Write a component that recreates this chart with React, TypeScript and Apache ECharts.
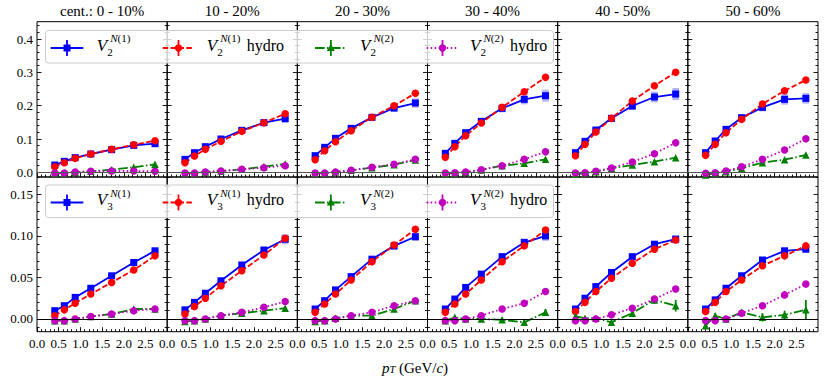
import React, { useEffect, useRef } from "react";
import * as echarts from "echarts";

// ---------------- data ----------------
const PT = [0.41, 0.63, 0.88, 1.24, 1.72, 2.23, 2.72];
const CENTRALITY = ["cent.: 0 - 10%", "10 - 20%", "20 - 30%", "30 - 40%", "40 - 50%", "50 - 60%"];

const X_TICKS = [0, 0.5, 1.0, 1.5, 2.0, 2.5];
const Y_TICKS_V2 = [0, 0.1, 0.2, 0.3, 0.4];
const Y_TICKS_V3 = [0, 0.05, 0.1, 0.15];

// V2 N(1) measured
const V2_N1 = [
  [0.022, 0.033, 0.044, 0.055, 0.068, 0.081, 0.086],
  [0.039, 0.059, 0.077, 0.100, 0.126, 0.149, 0.161],
  [0.050, 0.075, 0.102, 0.132, 0.165, 0.193, 0.208],
  [0.057, 0.087, 0.119, 0.153, 0.192, 0.219, 0.230],
  [0.059, 0.093, 0.127, 0.162, 0.199, 0.226, 0.235],
  [0.059, 0.094, 0.129, 0.164, 0.195, 0.219, 0.222],
];
const V2_N1_SYS = [
  [0.004, 0.004, 0.004, 0.004, 0.005, 0.006, 0.008],
  [0.005, 0.005, 0.005, 0.006, 0.008, 0.010, 0.012],
  [0.005, 0.006, 0.006, 0.008, 0.010, 0.012, 0.014],
  [0.006, 0.006, 0.007, 0.009, 0.012, 0.015, 0.018],
  [0.006, 0.006, 0.007, 0.009, 0.012, 0.016, 0.018],
  [0.006, 0.006, 0.007, 0.009, 0.012, 0.016, 0.016],
];
const V2_N1_HYDRO = [
  [0.017, 0.029, 0.042, 0.055, 0.069, 0.083, 0.095],
  [0.029, 0.049, 0.069, 0.093, 0.123, 0.149, 0.176],
  [0.038, 0.065, 0.092, 0.125, 0.165, 0.200, 0.237],
  [0.045, 0.077, 0.110, 0.148, 0.195, 0.242, 0.285],
  [0.050, 0.084, 0.121, 0.162, 0.214, 0.260, 0.300],
  [0.051, 0.084, 0.119, 0.159, 0.205, 0.245, 0.277],
];
const V2_N2 = [
  [-0.003, -0.002, 0.000, 0.003, 0.008, 0.015, 0.024],
  [-0.003, -0.002, 0.001, 0.004, 0.009, 0.017, 0.025],
  [-0.003, -0.002, 0.001, 0.006, 0.014, 0.023, 0.037],
  [-0.004, -0.002, 0.000, 0.007, 0.020, 0.027, 0.039],
  [-0.006, -0.002, 0.002, 0.012, 0.022, 0.032, 0.044],
  [-0.008, -0.002, 0.002, 0.012, 0.029, 0.038, 0.052],
];
const V2_N2_ERR = [
  [0.001, 0.001, 0.001, 0.001, 0.001, 0.002, 0.002],
  [0.001, 0.001, 0.001, 0.001, 0.002, 0.002, 0.003],
  [0.001, 0.001, 0.001, 0.001, 0.002, 0.002, 0.003],
  [0.001, 0.001, 0.001, 0.002, 0.002, 0.003, 0.003],
  [0.001, 0.001, 0.001, 0.002, 0.002, 0.003, 0.004],
  [0.001, 0.001, 0.001, 0.002, 0.002, 0.003, 0.004],
];
const V2_N2_HYDRO = [
  [-0.002, -0.002, 0.001, 0.003, 0.004, 0.004, 0.003],
  [-0.002, -0.002, 0.001, 0.004, 0.009, 0.014, 0.020],
  [-0.002, -0.002, 0.001, 0.006, 0.015, 0.024, 0.039],
  [-0.002, -0.001, 0.001, 0.008, 0.020, 0.039, 0.062],
  [-0.002, -0.001, 0.003, 0.013, 0.031, 0.056, 0.089],
  [-0.003, -0.001, 0.004, 0.017, 0.039, 0.067, 0.101],
];

// V3
const V3_N1 = [
  [0.010, 0.016, 0.026, 0.037, 0.052, 0.068, 0.082],
  [0.011, 0.020, 0.031, 0.046, 0.065, 0.083, 0.096],
  [0.012, 0.022, 0.035, 0.051, 0.072, 0.088, 0.099],
  [0.012, 0.024, 0.038, 0.054, 0.075, 0.092, 0.100],
  [0.012, 0.025, 0.039, 0.056, 0.075, 0.090, 0.096],
  [0.012, 0.023, 0.037, 0.052, 0.071, 0.082, 0.084],
];
const V3_N1_SYS = [
  [0.001, 0.001, 0.0012, 0.0015, 0.002, 0.003, 0.004],
  [0.0015, 0.0015, 0.0018, 0.002, 0.003, 0.004, 0.006],
  [0.0015, 0.0015, 0.002, 0.002, 0.003, 0.005, 0.005],
  [0.0015, 0.0015, 0.002, 0.0025, 0.004, 0.005, 0.006],
  [0.0015, 0.0015, 0.002, 0.0025, 0.003, 0.004, 0.005],
  [0.0015, 0.0015, 0.002, 0.0025, 0.003, 0.004, 0.004],
];
const V3_N1_HYDRO = [
  [0.004, 0.011, 0.019, 0.030, 0.044, 0.059, 0.076],
  [0.006, 0.015, 0.025, 0.040, 0.058, 0.077, 0.097],
  [0.008, 0.018, 0.030, 0.047, 0.069, 0.089, 0.108],
  [0.008, 0.018, 0.030, 0.047, 0.069, 0.088, 0.107],
  [0.009, 0.020, 0.033, 0.049, 0.067, 0.084, 0.095],
  [0.009, 0.020, 0.033, 0.047, 0.064, 0.076, 0.088],
];
const V3_N2 = [
  [-0.002, -0.002, 0.000, 0.003, 0.006, 0.012, 0.012],
  [-0.003, -0.002, 0.000, 0.004, 0.007, 0.010, 0.013],
  [-0.003, -0.002, 0.001, 0.004, 0.004, 0.012, 0.022],
  [-0.002, 0.002, 0.000, 0.000, -0.001, -0.004, 0.008],
  [0.003, 0.001, 0.001, -0.004, 0.007, 0.023, 0.016],
  [-0.008, 0.004, 0.000, 0.008, 0.002, 0.005, 0.011],
];
const V3_N2_ERR = [
  [0.0005, 0.0005, 0.0005, 0.001, 0.001, 0.0015, 0.002],
  [0.0005, 0.0005, 0.0005, 0.001, 0.001, 0.0015, 0.002],
  [0.0005, 0.0005, 0.001, 0.001, 0.0015, 0.002, 0.003],
  [0.001, 0.002, 0.001, 0.001, 0.0015, 0.003, 0.004],
  [0.002, 0.002, 0.0015, 0.002, 0.003, 0.005, 0.007],
  [0.003, 0.003, 0.002, 0.003, 0.005, 0.005, 0.012],
];
const V3_N2_HYDRO = [
  [-0.002, -0.002, 0.000, 0.003, 0.006, 0.010, 0.012],
  [-0.002, -0.002, 0.000, 0.004, 0.008, 0.014, 0.021],
  [-0.002, -0.002, 0.000, 0.004, 0.008, 0.016, 0.022],
  [-0.002, -0.002, 0.000, 0.004, 0.012, 0.019, 0.033],
  [-0.002, -0.002, 0.000, 0.005, 0.013, 0.024, 0.036],
  [-0.002, -0.002, 0.000, 0.007, 0.016, 0.029, 0.042],
];

// ---------------- styling / layout ----------------
const FONT = "Liberation Serif, DejaVu Serif, serif";
const BLUE = "#0000ff";
const RED = "#ff0000";
const GREEN = "#008000";
const MAGENTA = "#bf00bf";
const DASH = [5.5, 2.4];
const DASHDOT = [9.6, 2.4, 1.5, 2.4];
const DOT = [1.5, 2.5];

const GRID_LEFT = 37;
const GRID_W = (818 - 37) / 6;
const ROW_TOP = [21.7, 177];
const ROW_H = [155.3, 154.7];

function minors(step: number, lo: number, hi: number, majorStep: number): number[] {
  const out: number[] = [];
  const n0 = Math.ceil(lo / step - 1e-9);
  const n1 = Math.floor(hi / step + 1e-9);
  for (let k = n0; k <= n1; k++) {
    const v = Math.round(k * step * 1e6) / 1e6;
    const r = v / majorStep;
    if (Math.abs(r - Math.round(r)) > 1e-6) out.push(v);
  }
  return out;
}

const ROWS = [
  {
    n1: V2_N1, sys: V2_N1_SYS, n1h: V2_N1_HYDRO, n2: V2_N2, err: V2_N2_ERR, n2h: V2_N2_HYDRO,
    min: -0.014, max: 0.452, ticks: Y_TICKS_V2, minor: minors(0.02, -0.014, 0.452, 0.1), dec: 1, zero: "#555",
  },
  {
    n1: V3_N1, sys: V3_N1_SYS, n1h: V3_N1_HYDRO, n2: V3_N2, err: V3_N2_ERR, n2h: V3_N2_HYDRO,
    min: -0.0153, max: 0.1709, ticks: Y_TICKS_V3, minor: minors(0.01, -0.0153, 0.1709, 0.05), dec: 2, zero: "#000",
  },
];
const X_MINOR = minors(0.1, 0, 3, 0.5);

function buildOption() {
  const grid: any[] = [];
  const xAxis: any[] = [];
  const yAxis: any[] = [];
  const series: any[] = [];
  const tickLine = { color: "#000", width: 0.9 };

  ROWS.forEach((row, r) => {
    for (let c = 0; c < 6; c++) {
      const g = r * 6 + c;
      grid.push({
        left: GRID_LEFT + c * GRID_W,
        top: ROW_TOP[r],
        width: GRID_W,
        height: ROW_H[r],
        show: true,
        borderColor: "#000",
        borderWidth: 1,
        backgroundColor: "transparent",
        containLabel: false,
        outerBoundsMode: "none",
      });
      xAxis.push({
        type: "value", gridIndex: g, position: "bottom", min: 0, max: 3,
        axisLine: { show: false, onZero: false },
        splitLine: { show: false },
        axisTick: { show: true, inside: true, length: 4.5, customValues: X_TICKS, lineStyle: tickLine },
        axisLabel: {
          show: r === 1, customValues: X_TICKS, margin: 5,
          formatter: (v: number) => v.toFixed(1),
          fontFamily: FONT, fontSize: 13, color: "#000",
        },
      });
      xAxis.push({
        type: "value", gridIndex: g, position: "bottom", min: 0, max: 3,
        axisLine: { show: false, onZero: false },
        splitLine: { show: false },
        axisTick: { show: true, inside: true, length: 2.5, customValues: X_MINOR, lineStyle: tickLine },
        axisLabel: { show: false },
      });
      const yBase = {
        type: "value", gridIndex: g, min: row.min, max: row.max,
        axisLine: { show: false, onZero: false },
        splitLine: { show: false },
      };
      yAxis.push({
        ...yBase, position: "left",
        axisTick: { show: true, inside: true, length: 4.5, customValues: row.ticks, lineStyle: tickLine },
        axisLabel: {
          show: c === 0, customValues: row.ticks, margin: 4,
          formatter: (v: number) => v.toFixed(row.dec),
          fontFamily: FONT, fontSize: 13, color: "#000",
        },
      });
      yAxis.push({
        ...yBase, position: "left",
        axisTick: { show: true, inside: true, length: 2.5, customValues: row.minor, lineStyle: tickLine },
        axisLabel: { show: false },
      });
      yAxis.push({
        ...yBase, position: "right",
        axisTick: { show: true, inside: true, length: 4.5, customValues: row.ticks, lineStyle: tickLine },
        axisLabel: { show: false },
      });
      yAxis.push({
        ...yBase, position: "right",
        axisTick: { show: true, inside: true, length: 2.5, customValues: row.minor, lineStyle: tickLine },
        axisLabel: { show: false },
      });

      const xi = 2 * g;
      const yi = 4 * g;

      series.push({
        type: "custom", xAxisIndex: xi, yAxisIndex: yi, silent: true, z: 1,
        data: PT.map((x, i) => [x, row.n1[c][i], row.sys[c][i]]),
        renderItem: (_p: any, api: any) => {
          const x = api.value(0), y = api.value(1), e = api.value(2);
          const a = api.coord([x - 0.075, y + e]);
          const b = api.coord([x + 0.075, y - e]);
          return {
            type: "rect",
            shape: { x: a[0], y: a[1], width: b[0] - a[0], height: b[1] - a[1] },
            style: { fill: "rgba(0,0,255,0.3)" },
          };
        },
      });

      const mk = (data: number[], color: string, symbol: string, dash: any, size: number) => ({
        type: "line", xAxisIndex: xi, yAxisIndex: yi, silent: true, z: 3,
        data: PT.map((x, i) => [x, data[i]]),
        symbol, symbolSize: size, showSymbol: true,
        itemStyle: { color },
        lineStyle: { color, width: 1.8, type: dash },
      });

      const blue: any = mk(row.n1[c], BLUE, "rect", "solid", 7);
      blue.markLine = {
        silent: true, symbol: ["none", "none"], label: { show: false },
        lineStyle: { color: row.zero, width: 1, type: "solid" },
        data: [{ yAxis: 0 }],
      };
      series.push(blue);
      series.push(mk(row.n1h[c], RED, "circle", DASH, 7.5));
      series.push(mk(row.n2[c], GREEN, "triangle", DASHDOT, 7.5));
      series.push({
        type: "custom", xAxisIndex: xi, yAxisIndex: yi, silent: true, z: 3,
        data: PT.map((x, i) => [x, row.n2[c][i], row.err[c][i]]),
        renderItem: (_p: any, api: any) => {
          const x = api.value(0), y = api.value(1), e = api.value(2);
          const a = api.coord([x, y + e]);
          const b = api.coord([x, y - e]);
          return {
            type: "line",
            shape: { x1: a[0], y1: a[1], x2: b[0], y2: b[1] },
            style: { stroke: GREEN, lineWidth: 1.8 },
          };
        },
      });
      series.push(mk(row.n2h[c], MAGENTA, "circle", DOT, 7.5));
    }
  });

  const graphic: any[] = [];
  const legend = (top: number, harm: string) => {
    const hy = top + 17.5;
    graphic.push({
      type: "rect", z: 100,
      shape: { x: 45.5, y: top, width: 508, height: 32.5, r: 3 },
      style: { fill: "rgba(255,255,255,0.8)", stroke: "#cccccc", lineWidth: 1 },
    });
    const entries = [
      { x0: 50.7, x1: 83.3, color: BLUE, dash: null, sym: "rect", tx: 96.7, sup: "(1)", hydro: false },
      { x0: 162.7, x1: 194.3, color: RED, dash: DASH, sym: "circle", tx: 206.7, sup: "(1)", hydro: true },
      { x0: 315, x1: 346.7, color: GREEN, dash: DASHDOT, sym: "triangle", tx: 360, sup: "(2)", hydro: false },
      { x0: 426.7, x1: 458.3, color: MAGENTA, dash: DOT, sym: "circle", tx: 470, sup: "(2)", hydro: true },
    ];
    entries.forEach((e) => {
      const xm = (e.x0 + e.x1) / 2;
      graphic.push({
        type: "line", z: 101,
        shape: { x1: e.x0, y1: hy, x2: e.x1, y2: hy },
        style: { stroke: e.color, lineWidth: 1.8, lineDash: e.dash || undefined },
      });
      graphic.push({
        type: "line", z: 101,
        shape: { x1: xm, y1: hy - 8, x2: xm, y2: hy + 8 },
        style: { stroke: e.color, lineWidth: 1.8 },
      });
      if (e.sym === "rect") {
        graphic.push({ type: "rect", z: 102, shape: { x: xm - 3.5, y: hy - 3.5, width: 7, height: 7 }, style: { fill: e.color } });
      } else if (e.sym === "circle") {
        graphic.push({ type: "circle", z: 102, shape: { cx: xm, cy: hy, r: 3.7 }, style: { fill: e.color } });
      } else {
        graphic.push({
          type: "polygon", z: 102,
          shape: { points: [[xm, hy - 4.2], [xm + 4, hy + 3], [xm - 4, hy + 3]] },
          style: { fill: e.color },
        });
      }
      const txt = (x: number, y: number, text: string, size: number, italic: boolean, extra: any = {}) =>
        graphic.push({
          type: "text", z: 103, x, y,
          style: {
            text, fill: "#000",
            fontFamily: FONT, fontSize: size, fontStyle: italic ? "italic" : "normal",
            textAlign: "left", align: "left",
            textVerticalAlign: "middle", verticalAlign: "middle",
            ...extra,
          },
        });
      txt(e.tx, hy - 3, "V", 17, true);
      txt(e.tx + 10.5, hy + 3.5, harm, 11, false);
      txt(e.tx + 13.5, hy - 10, `{i|N}{r|${e.sup}}`, 11, false, {
        rich: {
          i: { fontStyle: "italic", fontSize: 11, fontFamily: FONT },
          r: { fontSize: 11, fontFamily: FONT },
        },
      });
      if (e.hydro) txt(e.tx + 40, hy - 3, "hydro", 16, false);
    });
  };
  legend(30.5, "2");
  legend(185, "3");

  graphic.push({
    type: "text", x: 415, y: 366, z: 50,
    style: {
      text: "{i|p}{s|T} {r|(GeV/}{i|c}{r|)}",
      textAlign: "center", align: "center",
      textVerticalAlign: "middle", verticalAlign: "middle",
      fill: "#000",
      fontFamily: FONT, fontSize: 15,
      rich: {
        i: { fontStyle: "italic", fontSize: 15, fontFamily: FONT, lineHeight: 18, verticalAlign: "bottom" },
        r: { fontSize: 15, fontFamily: FONT, lineHeight: 18, verticalAlign: "bottom" },
        s: { fontStyle: "italic", fontSize: 10.5, fontFamily: FONT, lineHeight: 11, verticalAlign: "bottom" },
      },
    },
  });

  const title = CENTRALITY.map((t, c) => ({
    text: t,
    left: GRID_LEFT + c * GRID_W + GRID_W / 2,
    top: 3.5,
    textAlign: "center",
    padding: 0,
    textStyle: { fontFamily: FONT, fontSize: 15, fontWeight: "normal", color: "#000" },
  }));

  return {
    animation: false,
    backgroundColor: "#ffffff",
    textStyle: { fontFamily: FONT },
    title,
    grid,
    xAxis,
    yAxis,
    series,
    graphic,
  };
}

export default function App() {
  const ref = useRef<HTMLDivElement>(null);
  useEffect(() => {
    if (!ref.current) return;
    const chart = echarts.init(ref.current, undefined, { renderer: "svg" });
    chart.setOption(buildOption() as any);
    return () => chart.dispose();
  }, []);
  return (
    <div
      ref={ref}
      style={{ position: "fixed", left: 0, top: 0, width: 830, height: 381, background: "#fff" }}
    />
  );
}
